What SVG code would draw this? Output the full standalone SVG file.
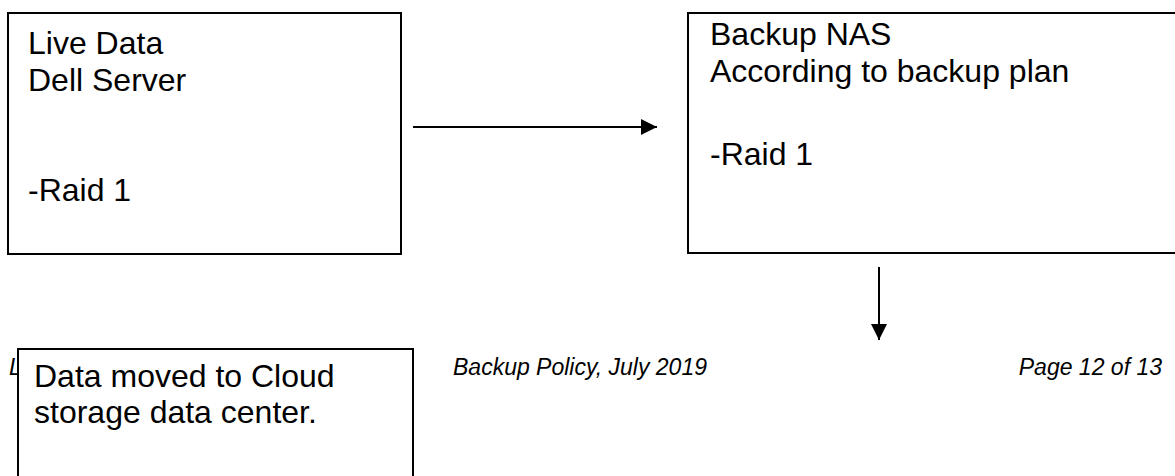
<svg xmlns="http://www.w3.org/2000/svg" width="1175" height="476" viewBox="0 0 1175 476">
  <defs>
    <style>
      .box { fill: #ffffff; stroke: #000000; stroke-width: 2; }
      .label { font-family: "Liberation Sans", Arial, sans-serif; font-size: 32px; fill: #000000; }
      .footer { font-family: "Liberation Sans", Arial, sans-serif; font-size: 23px; font-style: italic; fill: #000000; }
      .link { stroke: #000000; stroke-width: 2; fill: none; }
    </style>
    <marker id="arrow" viewBox="0 0 16 16" refX="16" refY="8" markerWidth="16" markerHeight="16" markerUnits="userSpaceOnUse" orient="auto">
      <path d="M0,0 L16,8 L0,16 Z" fill="#000000"/>
    </marker>
  </defs>

  <rect width="1175" height="476" fill="#ffffff"/>

  <!-- page footer -->
  <g id="footer">
    <text class="footer" x="9" y="375">L</text>
    <text class="footer" x="453" y="375">Backup Policy, July 2019</text>
    <text class="footer" x="1162" y="375" text-anchor="end">Page 12 of 13</text>
  </g>

  <g id="connectors">
    <line class="link" x1="413" y1="127" x2="657" y2="127" marker-end="url(#arrow)"/>
    <line class="link" x1="879" y1="267" x2="879" y2="340" marker-end="url(#arrow)"/>
  </g>

  <g id="live-data">
    <rect class="box" x="8" y="13" width="393" height="241"/>
    <text class="label" x="28" y="54">Live Data</text>
    <text class="label" x="28" y="91">Dell Server</text>
    <text class="label" x="28" y="201">-Raid 1</text>
  </g>

  <g id="backup-nas">
    <rect class="box" x="688" y="13" width="520" height="240"/>
    <text class="label" x="710" y="45">Backup NAS</text>
    <text class="label" x="710" y="82">According to backup plan</text>
    <text class="label" x="710" y="165">-Raid 1</text>
  </g>

  <g id="cloud">
    <rect class="box" x="18" y="349" width="395" height="160"/>
    <text class="label" x="34" y="387">Data moved to Cloud</text>
    <text class="label" x="34" y="423">storage data center.</text>
  </g>
</svg>
